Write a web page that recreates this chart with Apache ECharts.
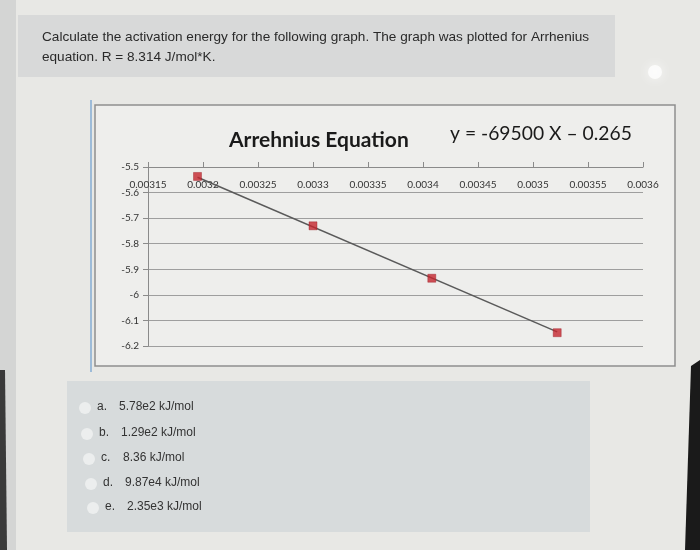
<!DOCTYPE html>
<html>
<head>
<meta charset="utf-8">
<script src="https://cdn.jsdelivr.net/npm/echarts@6/dist/echarts.min.js"></script>
<style>
html,body{margin:0;padding:0;background:#e7e7e4;}
#chart{width:700px;height:550px;}
</style>
</head>
<body>
<div id="chart"></div>
<script>
// ---- data ----
const xValues = [0.003195, 0.0033, 0.003408, 0.003522];
const yValues = [-5.537, -5.73, -5.935, -6.148];
const trendX = [0.003195, 0.003522];
const trendY = [-5.54, -6.145];
const xTickLabels = ['0.00315','0.0032','0.00325','0.0033','0.00335','0.0034','0.00345','0.0035','0.00355','0.0036'];
const yTickLabels = ['-6.2','-6.1','-6','-5.9','-5.8','-5.7','-5.6','-5.5'];
const chartTitle = 'Arrehnius Equation';
const equationText = 'y = -69500 X \u2013 0.265';
const questionLines = [
  'Calculate the activation energy for the following graph. The graph was plotted for Arrhenius',
  'equation. R = 8.314 J/mol*K.'
];
const optionLetters = ['a.', 'b.', 'c.', 'd.', 'e.'];
const optionTexts = ['5.78e2 kJ/mol', '1.29e2 kJ/mol', '8.36 kJ/mol', '9.87e4 kJ/mol', '2.35e3 kJ/mol'];

const X_MIN = 0.00315, X_MAX = 0.0036, X_STEP = 0.00005;
const Y_MIN = -6.2, Y_MAX = -5.5, Y_STEP = 0.1;

function xLabel(v){
  const i = Math.round((v - X_MIN) / X_STEP);
  return xTickLabels[i] !== undefined ? xTickLabels[i] : '';
}
function yLabel(v){
  const i = Math.round((v - Y_MIN) / Y_STEP);
  return yTickLabels[i] !== undefined ? yTickLabels[i] : '';
}

const graphics = [
  {type:'rect', shape:{x:0,y:0,width:700,height:550}, style:{fill:'#e8e8e5'}, z:-10},
  {type:'rect', shape:{x:0,y:0,width:16,height:550}, style:{fill:'#d4d5d4'}, z:-9},
  {type:'polygon', shape:{points:[[0,370],[5,370],[7,550],[0,550]]}, style:{fill:'#3a3a3a'}, z:-8},
  {type:'rect', shape:{x:18,y:15,width:597,height:62}, style:{fill:'#d8d9d9'}, z:-8},
  {type:'rect', shape:{x:67,y:381,width:523,height:151}, style:{fill:'#d7dbdc'}, z:-8},
  {type:'circle', shape:{cx:655,cy:72,r:7}, style:{fill:'#ffffff', shadowBlur:12, shadowColor:'#ffffff', opacity:0.75}, z:-7},
  {type:'polygon', shape:{points:[[691,366],[700,360],[700,550],[685,550]]}, style:{fill:'#1a1a1a'}, z:-7},
  // chart box
  {type:'rect', shape:{x:95,y:105,width:580,height:261}, style:{fill:'#eeeeec', stroke:'#8e8e8e', lineWidth:1.5}, z:-6},
  {type:'line', shape:{x1:91,y1:100,x2:91,y2:372}, style:{stroke:'#9dbbd8', lineWidth:2}, z:-5},
  {type:'text', x:42, y:30, style:{text:questionLines[0], fill:'#2a2a2a', font:'13.6px "Liberation Sans", Arial, sans-serif'}},
  {type:'text', x:42, y:50, style:{text:questionLines[1], fill:'#2a2a2a', font:'13.6px "Liberation Sans", Arial, sans-serif'}},
  {type:'text', x:450, y:124, style:{text:equationText, fill:'#1a1a1a', font:'19.3px Lato, "Open Sans", sans-serif'}}
];
const optY = [408, 434, 459, 484, 508];
const optCx = [85, 87, 89, 91, 93];
optionLetters.forEach(function(l, i){
  graphics.push({type:'circle', shape:{cx:optCx[i], cy:optY[i], r:6}, style:{fill:'#eceeee'}});
  graphics.push({type:'text', x:optCx[i]+12, y:optY[i]-7, style:{text:l, fill:'#333', font:'12px "Liberation Sans", Arial, sans-serif'}});
  graphics.push({type:'text', x:optCx[i]+34, y:optY[i]-7, style:{text:optionTexts[i], fill:'#333', font:'12px "Liberation Sans", Arial, sans-serif'}});
});

const chart = echarts.init(document.getElementById('chart'));
chart.setOption({
  backgroundColor: 'transparent',
  animation: false,
  graphic: graphics,
  title: {
    text: chartTitle,
    left: 224, top: 125,
    textStyle: {fontFamily:'Lato, "Open Sans", sans-serif', fontWeight:'bold', fontSize:21, color:'#1a1a1a'}
  },
  grid: {left:148, top:167, width:495, height:179, containLabel:false},
  xAxis: {
    type:'value', position:'top', min:X_MIN, max:X_MAX, interval:X_STEP,
    axisLine:{show:true, onZero:false, lineStyle:{color:'#8a8a8a', width:1}},
    axisTick:{show:true, inside:false, length:5, lineStyle:{color:'#8a8a8a'}},
    axisLabel:{inside:true, margin:13, formatter:xLabel, color:'#333', fontSize:10, fontFamily:'Lato, "Open Sans", sans-serif'},
    splitLine:{show:false}
  },
  yAxis: {
    type:'value', min:Y_MIN, max:Y_MAX, interval:Y_STEP,
    axisLine:{show:true, lineStyle:{color:'#8a8a8a', width:1}},
    axisTick:{show:true, length:5, lineStyle:{color:'#8a8a8a'}},
    axisLabel:{margin:9, formatter:yLabel, color:'#333', fontSize:10, fontFamily:'Lato, "Open Sans", sans-serif'},
    splitLine:{show:true, lineStyle:{color:'#9e9e9e', width:1}}
  },
  series: [
    {
      type:'line', data: trendX.map(function(x,i){return [x, trendY[i]];}),
      showSymbol:false, symbol:'none', lineStyle:{color:'#5a5a5a', width:1.5}, z:2, silent:true
    },
    {
      type:'scatter', data: xValues.map(function(x,i){return [x, yValues[i]];}),
      symbol:'rect', symbolSize:8, itemStyle:{color:'#c4262e', borderColor:'#9a1a22', borderWidth:0.5}, z:3
    }
  ]
});
</script>
</body>
</html>
